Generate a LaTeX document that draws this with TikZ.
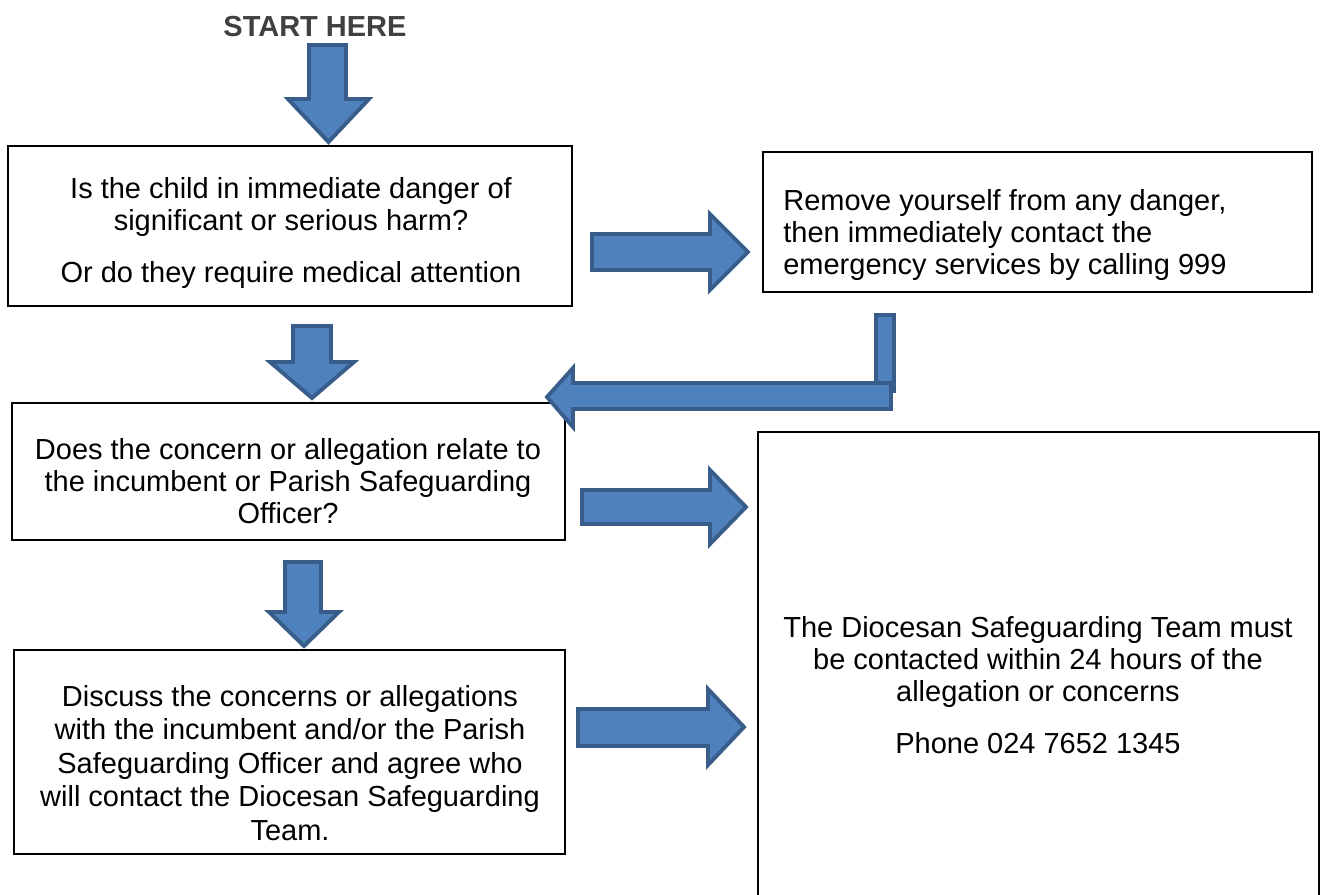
\documentclass[tikz,border=0pt]{standalone}
\usepackage{fontspec}
\setmainfont{Liberation Sans}
\definecolor{arrowfill}{HTML}{4F81BD}
\definecolor{arrowedge}{HTML}{385D8A}
\definecolor{startgray}{HTML}{404040}
\begin{document}
\begin{tikzpicture}[x=0.02cm,y=-0.02cm,
    boxline/.style={draw=black,line width=1.1pt},
    blockarrow/.style={fill=arrowfill,draw=arrowedge,line width=2.2pt,line join=miter},
    txt/.style={font=\fontsize{16.5}{18.2}\selectfont,inner sep=0pt,align=center}]
    \useasboundingbox (0,0) rectangle (1320,894);
    \clip (0,0) rectangle (1320,894);
    \node[txt,font=\fontsize{16.5}{18.2}\selectfont\bfseries,text=startgray] (start) at (315,27) {START HERE};
    \draw[boxline] (8,146) rectangle (572,306);
    \draw[boxline] (763,152) rectangle (1312,292);
    \draw[boxline] (12,403) rectangle (565,540);
    \draw[boxline] (14,650) rectangle (565,854);
    \draw[boxline] (758,432) rectangle (1319,920);
    \node[txt] (danger) at (291,233) {Is the child in immediate danger of\\significant or serious harm?\\[0.4cm]Or do they require medical attention};
    \node[txt,anchor=west,align=left] (remove) at (783,235) {Remove yourself from any danger,\\then immediately contact the\\emergency services by calling 999};
    \node[txt] (concern) at (288,481) {Does the concern or allegation relate to\\the incumbent or Parish Safeguarding\\Officer?};
    \node[txt,font=\fontsize{16.5}{19}\selectfont] (discuss) at (290,763) {Discuss the concerns or allegations\\with the incumbent and/or the Parish\\Safeguarding Officer and agree who\\will contact the Diocesan Safeguarding\\Team.};
    \node[txt] (diocesan) at (1038,685) {The Diocesan Safeguarding Team must\\be contacted within 24 hours of the\\allegation or concerns\\[0.4cm]Phone 024 7652 1345};
    \draw[blockarrow] (309,45) -- (346,45) -- (346,99) -- (369,99) -- (328.5,142) -- (288,99) -- (309,99) -- cycle;
    \draw[blockarrow] (293,326) -- (331,326) -- (331,362) -- (354,362) -- (312,398) -- (270,362) -- (293,362) -- cycle;
    \draw[blockarrow] (285,562) -- (321,562) -- (321,612) -- (339,612) -- (304,646) -- (269,612) -- (285,612) -- cycle;
    \draw[blockarrow] (592,234) -- (710,234) -- (710,214) -- (748,252) -- (710,290) -- (710,270) -- (592,270) -- cycle;
    \draw[blockarrow] (582,490) -- (710,490) -- (710,470) -- (746,507) -- (710,544) -- (710,524) -- (582,524) -- cycle;
    \draw[blockarrow] (578,709) -- (708,709) -- (708,689) -- (744,727) -- (708,765) -- (708,746) -- (578,746) -- cycle;
    \draw[blockarrow] (876,315) rectangle (894,391);
    \draw[blockarrow] (891,383) -- (573,383) -- (573,368) -- (547,397) -- (573,427) -- (573,409) -- (891,409) -- cycle;
\end{tikzpicture}
\end{document}
